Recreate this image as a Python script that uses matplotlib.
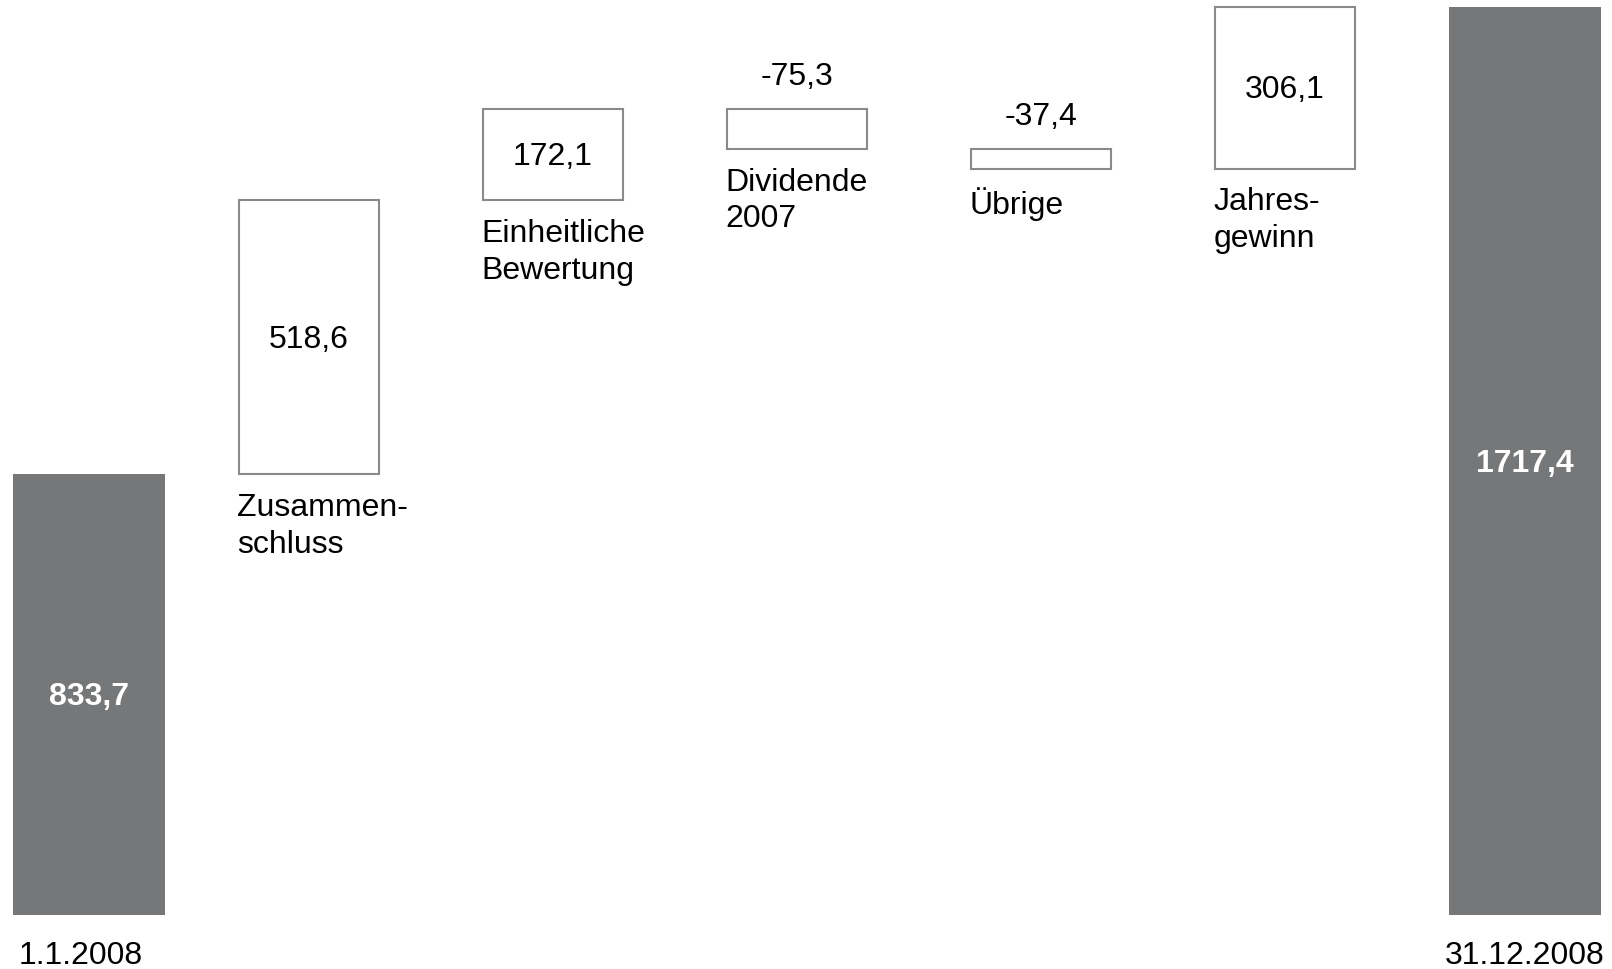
import matplotlib
matplotlib.use("Agg")
import matplotlib.pyplot as plt

plt.rcParams['font.family'] = ['Liberation Sans', 'DejaVu Sans']

# ---- data ----
categories = ["1.1.2008", "Zusammen-\nschluss", "Einheitliche\nBewertung",
              "Dividende\n2007", "Übrige", "Jahres-\ngewinn", "31.12.2008"]
start_value = 833.7
changes = [518.6, 172.1, -75.3, -37.4, 306.1]
end_value = 1717.4

# ---- layout ----
xpos = [0, 0.9, 1.9, 2.9, 3.9, 4.9, 5.885]
total_w = 0.623
step_w = 0.574
gray = "#767779"
edge = "#8a8a8a"
FS = 23

def fmt(v):
    return f"{v:.1f}".replace(".", ",")

fig = plt.figure(figsize=(16.12, 9.69), dpi=100)
ax = fig.add_axes([0, 0, 1, 1])
ax.set_xlim(-0.365, 6.242)
ax.set_ylim(-102.1, 1730.6)
ax.axis("off")

def center_label(x, y, s, **kw):
    ax.annotate(s, (x, y), xytext=(0, -2), textcoords="offset points",
                ha="center", va="center", fontsize=FS, **kw)

# start bar
ax.bar(xpos[0], start_value, width=total_w, color=gray, linewidth=0)
center_label(xpos[0], start_value / 2, fmt(start_value), color="white",
             fontweight="bold")

# floating steps
level = start_value
for i, v in enumerate(changes):
    x = xpos[i + 1]
    lo = min(level, level + v)
    hi = max(level, level + v)
    ax.bar(x, hi - lo, bottom=lo, width=step_w, facecolor="white",
           edgecolor=edge, linewidth=1.5)
    if v >= 0:
        center_label(x, (lo + hi) / 2, fmt(v), color="black")
    else:
        ax.annotate(fmt(v), (x, hi), xytext=(0, 17.5), textcoords="offset points",
                    ha="center", va="baseline", color="black", fontsize=FS)
    ax.annotate(categories[i + 1], (x - step_w / 2, lo), xytext=(-1, -13.5),
                textcoords="offset points", ha="left", va="top",
                color="black", fontsize=FS, linespacing=1.3)
    level += v

# end bar
ax.bar(xpos[-1], end_value, width=total_w, color=gray, linewidth=0)
center_label(xpos[-1], end_value / 2, fmt(end_value), color="white",
             fontweight="bold")

# date labels
for xi, lab in ((xpos[0] - 0.035, categories[0]), (xpos[-1], categories[-1])):
    ax.annotate(lab, (xi, 0), xytext=(0, -35.5), textcoords="offset points",
                ha="center", va="baseline", color="black", fontsize=FS)

fig.savefig("out.png", dpi=100)
